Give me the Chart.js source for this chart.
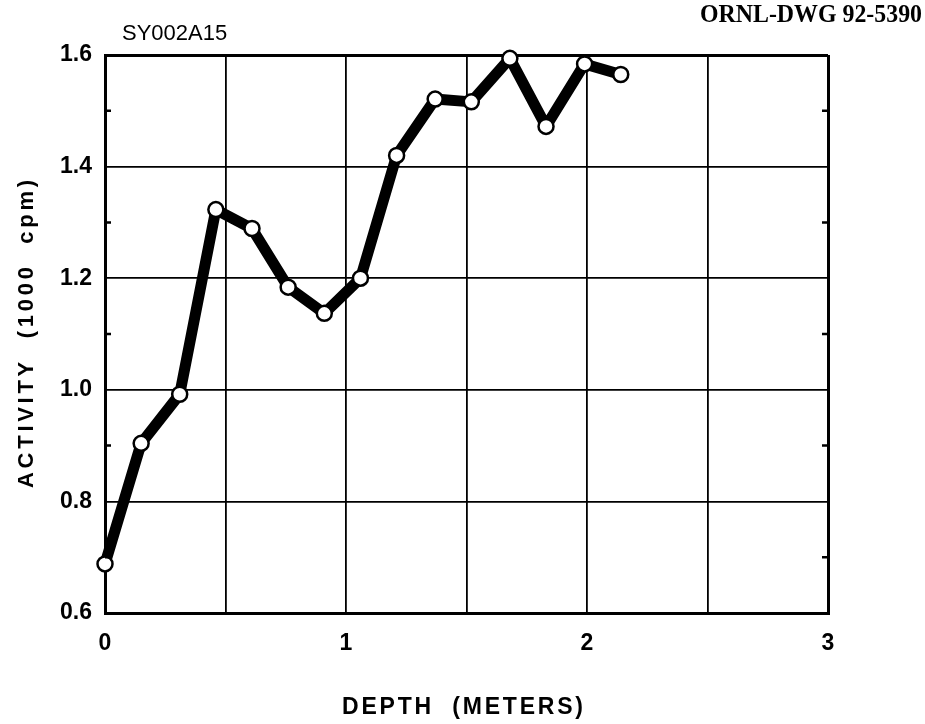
<!DOCTYPE html>
<html>
<head>
<meta charset="utf-8">
<script src="https://cdn.jsdelivr.net/npm/chart.js@4"></script>
<style>
  html, body { margin: 0; padding: 0; background: #fff; }
  #wrap { width: 925px; height: 724px; position: relative; }
</style>
</head>
<body>
<div id="wrap"><canvas id="c" width="925" height="724"></canvas></div>
<script>
// ---- data ----
const depth = [0, 0.15, 0.31, 0.46, 0.61, 0.76, 0.91, 1.06, 1.21, 1.37, 1.52, 1.68, 1.83, 1.99, 2.14];
const activity = [0.688, 0.904, 0.992, 1.323, 1.289, 1.184, 1.137, 1.200, 1.420, 1.521, 1.516, 1.594, 1.472, 1.584, 1.565];
const xTickLabels = [0, 1, 2, 3];
const yTickLabels = [0.6, 0.8, 1.0, 1.2, 1.4, 1.6];
const yMinorTicks = [0.7, 0.9, 1.1, 1.3, 1.5];
const sampleName = 'SY002A15';
const drawingId = 'ORNL-DWG 92-5390';
const xTitle = 'DEPTH  (METERS)';
const yTitle = 'ACTIVITY  (1000  cpm)';

const points = depth.map((d, i) => ({ x: d, y: activity[i] }));

function fitText(ctx, text, x, y, width) {
  ctx.letterSpacing = '0px';
  const w = ctx.measureText(text).width;
  const n = text.length;
  const ls = (width - w) / (n - 1);
  ctx.letterSpacing = ls + 'px';
  ctx.textAlign = 'left';
  ctx.fillText(text, x - width / 2, y);
  ctx.letterSpacing = '0px';
}

const decorPlugin = {
  id: 'decor',
  afterDraw(chart) {
    const ctx = chart.ctx;
    const ys = chart.scales.y;
    const ca = chart.chartArea;
    ctx.save();
    // minor inward ticks on left and right axes
    ctx.strokeStyle = '#000';
    ctx.lineWidth = 2.5;
    yMinorTicks.forEach(v => {
      const py = ys.getPixelForValue(v);
      ctx.beginPath();
      ctx.moveTo(ca.left, py); ctx.lineTo(ca.left + 6, py);
      ctx.moveTo(ca.right, py); ctx.lineTo(ca.right - 6, py);
      ctx.stroke();
    });
    ctx.fillStyle = '#000';
    ctx.textBaseline = 'middle';
    // sample name
    ctx.font = '22px "Liberation Sans", Arial, sans-serif';
    ctx.textAlign = 'left';
    ctx.fillText(sampleName, 122, 34);
    // drawing id (condensed serif bold)
    ctx.font = 'bold 25px "Liberation Serif", "Times New Roman", serif';
    const w = ctx.measureText(drawingId).width;
    ctx.save();
    ctx.translate(700, 16);
    ctx.scale(222 / w, 1);
    ctx.textAlign = 'left';
    ctx.fillText(drawingId, 0, 0);
    ctx.restore();
    // x title
    ctx.font = 'bold 23px "Liberation Sans", Arial, sans-serif';
    fitText(ctx, xTitle, (ca.left + ca.right) / 2 - 4, 708, 241);
    // y title
    ctx.save();
    ctx.translate(27, 334);
    ctx.rotate(-Math.PI / 2);
    ctx.font = 'bold 22px "Liberation Sans", Arial, sans-serif';
    fitText(ctx, yTitle, 0, 0, 308);
    ctx.restore();
    ctx.restore();
  }
};

new Chart(document.getElementById('c'), {
  type: 'line',
  data: {
    datasets: [{
      data: points,
      borderColor: '#000',
      borderWidth: 11,
      borderJoinStyle: 'round',
      pointRadius: 7.5,
      pointBorderWidth: 2.5,
      pointBackgroundColor: '#fff',
      pointBorderColor: '#000',
      tension: 0,
      clip: false
    }]
  },
  options: {
    responsive: false,
    animation: false,
    devicePixelRatio: 1,
    layout: { padding: { top: 55, right: 97, left: 0, bottom: 0 } },
    plugins: { legend: { display: false }, tooltip: { enabled: false } },
    scales: {
      x: {
        type: 'linear',
        min: 0, max: 3,
        afterFit: s => { s.height = 111; },
        ticks: {
          stepSize: 0.5,
          padding: 17,
          color: '#000',
          font: { family: '"Liberation Sans", Arial, sans-serif', size: 23, weight: 'bold' },
          maxRotation: 0,
          callback: v => xTickLabels.includes(v) ? String(v) : ''
        },
        grid: {
          color: '#000',
          drawTicks: false,
          lineWidth: c => (c.tick && (c.tick.value === 0 || c.tick.value === 3)) ? 3 : 1.8
        },
        border: { display: true, color: '#000', width: 3 }
      },
      y: {
        min: 0.6, max: 1.6,
        afterFit: s => { s.width = 105; },
        ticks: {
          stepSize: 0.1,
          padding: 13,
          color: '#000',
          font: { family: '"Liberation Sans", Arial, sans-serif', size: 23, weight: 'bold' },
          callback: v => {
            const m = yTickLabels.find(t => Math.abs(t - v) < 1e-6);
            return m !== undefined ? m.toFixed(1) : '';
          }
        },
        grid: {
          drawTicks: false,
          color: c => {
            const v = c.tick ? c.tick.value : 0;
            return yTickLabels.some(t => Math.abs(t - v) < 1e-6) ? '#000' : 'rgba(0,0,0,0)';
          },
          lineWidth: c => {
            const v = c.tick ? c.tick.value : 0;
            return (Math.abs(v - 0.6) < 1e-6 || Math.abs(v - 1.6) < 1e-6) ? 3 : 1.8;
          }
        },
        border: { display: true, color: '#000', width: 3 }
      }
    }
  },
  plugins: [decorPlugin]
});
</script>
</body>
</html>
